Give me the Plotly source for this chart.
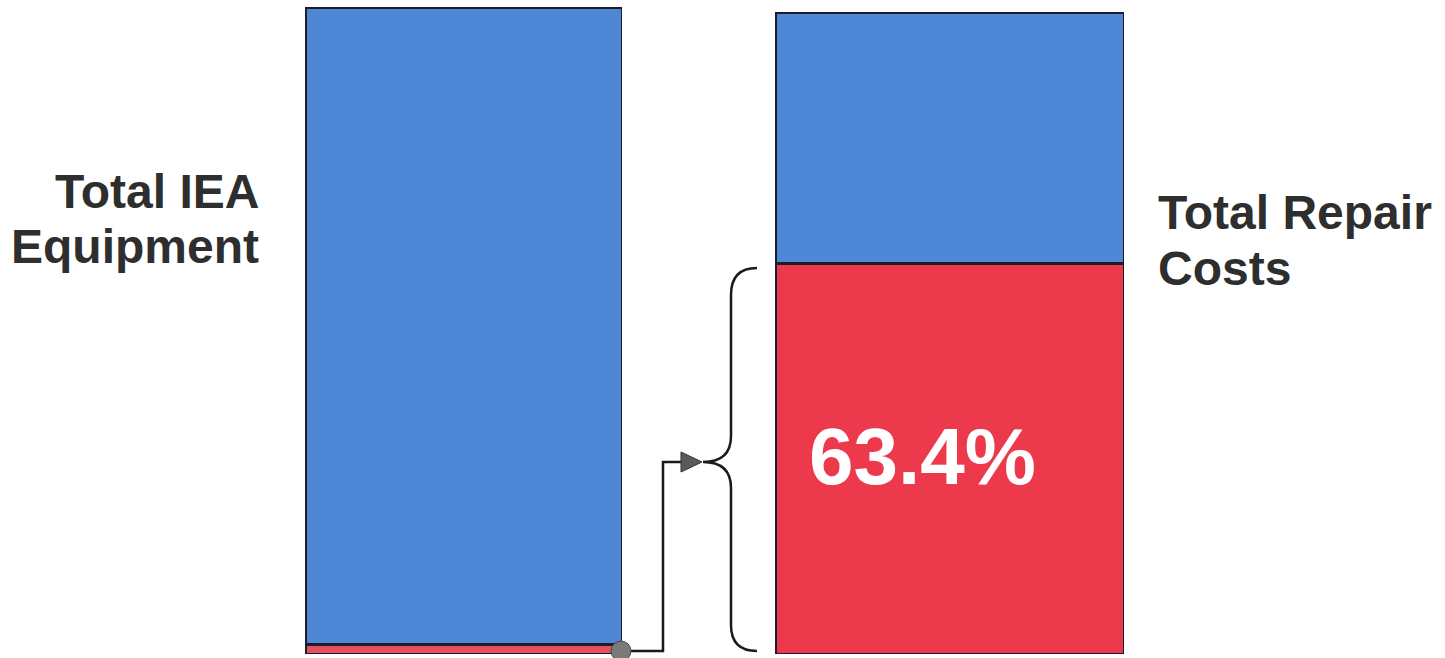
import plotly.graph_objects as go

W, H = 1445, 658

# ---- data ----
bar_labels = ["Total IEA<br>Equipment", "Total Repair<br>Costs"]
share_red = [1.4, 60.9]      # share (%)
share_blue = [98.6, 39.1]
value_label = "63.4%"

BLUE = "#4d87d6"
RED = "#ec3a4c"
EDGE = "#1c1c2a"

fig = go.Figure()

# left bar (axis x/y), right bar (axis x2/y2)
for i, (xa, ya) in enumerate([("x", "y"), ("x2", "y2")]):
    fig.add_trace(go.Bar(x=[0], y=[share_red[i]], xaxis=xa, yaxis=ya, width=1,
                         cliponaxis=False,
                         marker=dict(color=RED if i == 1 else "#e4505e",
                                     line=dict(color=EDGE, width=3)),
                         showlegend=False, hoverinfo="skip"))
    fig.add_trace(go.Bar(x=[0], y=[share_blue[i]], xaxis=xa, yaxis=ya, width=1,
                         cliponaxis=False,
                         marker=dict(color=BLUE, line=dict(color=EDGE, width=3)),
                         showlegend=False, hoverinfo="skip"))

hidden = dict(visible=False, showgrid=False, zeroline=False, fixedrange=True)

def px_x(a, b):
    return [a / W, b / W]

def px_y(top, bottom):
    return [(H - bottom) / H, (H - top) / H]

fig.update_layout(
    width=W, height=H,
    margin=dict(l=0, r=0, t=0, b=0),
    paper_bgcolor="white", plot_bgcolor="rgba(0,0,0,0)",
    barmode="stack",
    xaxis=dict(domain=px_x(305, 622), range=[-0.5, 0.5], anchor="y", **hidden),
    yaxis=dict(domain=px_y(7, 654), range=[0, 100], anchor="x", **hidden),
    xaxis2=dict(domain=px_x(775, 1124), range=[-0.5, 0.5], anchor="y2", **hidden),
    yaxis2=dict(domain=px_y(12, 654), range=[0, 100], anchor="x2", **hidden),
    # independent pixel-space axis for annotations / connector
    xaxis3=dict(domain=[0, 1], range=[0, W], anchor="y3", **hidden),
    yaxis3=dict(domain=[0, 1], range=[H, 0], anchor="x3", **hidden),
)

# dummy trace to activate x3/y3
fig.add_trace(go.Scatter(x=[0], y=[0], xaxis="x3", yaxis="y3", mode="markers",
                         marker=dict(opacity=0), showlegend=False, hoverinfo="skip"))

# connector line
fig.add_shape(type="path", xref="x3", yref="y3",
              path="M 622 651 L 663 651 L 663 462 L 684 462",
              line=dict(color="#1a1a1a", width=2.5))
# arrow head
fig.add_shape(type="path", xref="x3", yref="y3",
              path="M 681 452 L 702 462 L 681 472 Z",
              fillcolor="#5a5a5a", line=dict(color="#333", width=1))
# circle at source
fig.add_shape(type="circle", xref="x3", yref="y3",
              x0=611, x1=631, y0=641, y1=661,
              fillcolor="#7a7a7a", line=dict(color="#4a4a4a", width=1))
# curly brace
fig.add_shape(type="path", xref="x3", yref="y3",
              path=("M 757 268 Q 731 268 731 295 L 731 436 Q 731 462 703 462 "
                    "Q 731 462 731 488 L 731 625 Q 731 651 757 651"),
              line=dict(color="#1a1a1a", width=2.5))

TXT = "#2e2e2e"
FONT = "Liberation Sans, Arial, sans-serif"

left_lines = bar_labels[0].split("<br>")
right_lines = bar_labels[1].split("<br>")
for line, yc in zip(left_lines, [191, 246]):
    fig.add_annotation(xref="x3", yref="y3", x=261, y=yc, text="<b>%s</b>" % line,
                       showarrow=False, xanchor="right", yanchor="middle",
                       font=dict(family=FONT, size=48, color=TXT))
for line, yc in zip(right_lines, [212, 268]):
    fig.add_annotation(xref="x3", yref="y3", x=1156, y=yc, text="<b>%s</b>" % line,
                       showarrow=False, xanchor="left", yanchor="middle",
                       font=dict(family=FONT, size=48, color=TXT))
fig.add_annotation(xref="x3", yref="y3", x=922, y=456, text="<b>%s</b>" % value_label,
                   showarrow=False, xanchor="center", yanchor="middle",
                   font=dict(family=FONT, size=80, color="white"))

fig.write_html("out.html")
